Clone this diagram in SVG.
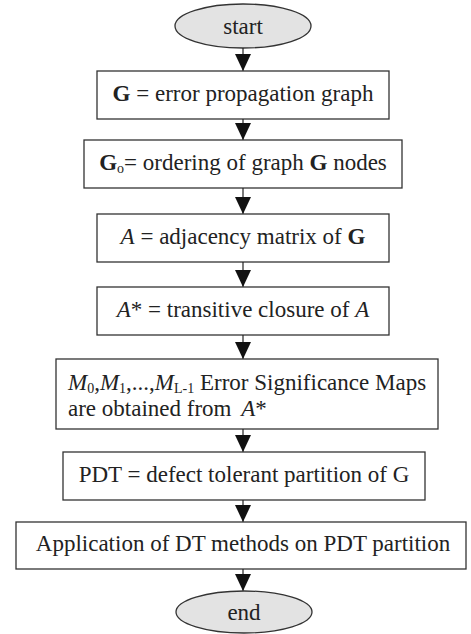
<svg xmlns="http://www.w3.org/2000/svg" width="471" height="634" viewBox="0 0 471 634">
<defs>
<style>
.box{fill:#fff;stroke:#333;stroke-width:1.3}
.term{fill:#e3e3e3;stroke:#333;stroke-width:1.3}
.t{font-family:"Liberation Serif","Times New Roman",serif;font-size:23px;fill:#222}
.c{text-anchor:middle}
.sub{font-size:14px}
.conn line{stroke:#222;stroke-width:1.2}
</style>
<marker id="ah" viewBox="0 0 16 17" refX="17" refY="8" markerWidth="16" markerHeight="17" markerUnits="userSpaceOnUse" orient="auto">
<path d="M0,0 L17,8 L0,16 Z" fill="#111"/>
</marker>
</defs>
<rect width="471" height="634" fill="#fff"/>
<g id="start">
<ellipse class="term" cx="243" cy="26" rx="68" ry="22"/>
<text class="t c" x="243" y="34">start</text>
</g>
<g id="n1">
<rect class="box" x="97" y="71" width="292" height="48"/>
<text class="t c" x="243" y="101"><tspan font-weight="bold">G</tspan> = error propagation graph</text>
</g>
<g id="n2">
<rect class="box" x="84" y="140" width="318" height="48"/>
<text class="t c" x="243" y="170"><tspan font-weight="bold">G</tspan><tspan class="sub" dy="3">o</tspan><tspan dy="-3">= ordering of graph </tspan><tspan font-weight="bold">G</tspan> nodes</text>
</g>
<g id="n3">
<rect class="box" x="97" y="214" width="292" height="48"/>
<text class="t c" x="243" y="244"><tspan font-style="italic">A</tspan> = adjacency matrix of <tspan font-weight="bold">G</tspan></text>
</g>
<g id="n4">
<rect class="box" x="97" y="287" width="292" height="48"/>
<text class="t c" x="243" y="317"><tspan font-style="italic">A</tspan>* = transitive closure of <tspan font-style="italic">A</tspan></text>
</g>
<g id="n5">
<rect class="box" x="56" y="359" width="382" height="70"/>
<text class="t" x="68" y="390"><tspan font-style="italic">M</tspan><tspan class="sub" dy="3">0</tspan><tspan dy="-3">,</tspan><tspan font-style="italic">M</tspan><tspan class="sub" dy="3">1</tspan><tspan dy="-3">,...,</tspan><tspan font-style="italic">M</tspan><tspan class="sub" dy="3">L-1</tspan><tspan dy="-3"> Error Significance Maps</tspan></text>
<text class="t" x="68" y="416">are obtained from <tspan dx="4" font-style="italic">A</tspan>*</text>
</g>
<g id="n6">
<rect class="box" x="63" y="452" width="362" height="48"/>
<text class="t c" x="244" y="482">PDT = defect tolerant partition of G</text>
</g>
<g id="n7">
<rect class="box" x="16" y="522" width="450" height="47"/>
<text class="t c" x="243" y="551">Application of DT methods on PDT partition</text>
</g>
<g id="end">
<ellipse class="term" cx="244" cy="612" rx="68" ry="21"/>
<text class="t c" x="244" y="620">end</text>
</g>
<g id="connectors" class="conn">
<line x1="243" y1="48" x2="243" y2="71" marker-end="url(#ah)"/>
<line x1="243" y1="119" x2="243" y2="140" marker-end="url(#ah)"/>
<line x1="243" y1="188" x2="243" y2="214" marker-end="url(#ah)"/>
<line x1="243" y1="262" x2="243" y2="287" marker-end="url(#ah)"/>
<line x1="243" y1="335" x2="243" y2="359" marker-end="url(#ah)"/>
<line x1="243" y1="429" x2="243" y2="452" marker-end="url(#ah)"/>
<line x1="243" y1="500" x2="243" y2="522" marker-end="url(#ah)"/>
<line x1="243" y1="569" x2="243" y2="591" marker-end="url(#ah)"/>
</g>
</svg>
